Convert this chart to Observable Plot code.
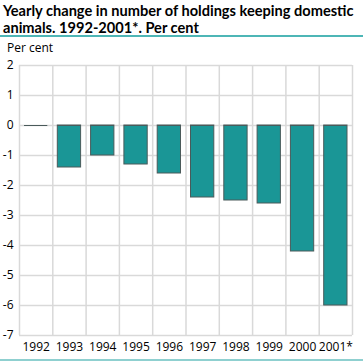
<!DOCTYPE html>
<html><head><meta charset="utf-8">
<script src="https://cdn.jsdelivr.net/npm/d3@7"></script>
<script src="https://cdn.jsdelivr.net/npm/@observablehq/plot@0.6"></script>
<style>
body{margin:0;background:#fff;font-family:"Open Sans",sans-serif;width:363px;}
#title{font-family:Lato,sans-serif;font-weight:bold;font-size:14.6px;line-height:17px;padding:2px 0 0 3px;color:#000;height:33px;white-space:nowrap;overflow:hidden}
#rule{height:2px;background:#4db6b6;margin-top:0px}
#unit{font-size:12px;line-height:14px;padding:4px 0 0 7px;height:14px;color:#000}
#bottom{height:2px;background:#8fd0d0}
svg{display:block}
</style></head><body>
<div id="title">Yearly change in number of holdings keeping domestic<br>animals. 1992-2001*. Per cent</div>
<div id="rule"></div>
<div id="unit">Per cent</div>
<div id="chart"></div>
<div id="bottom"></div>
<script>
const years = ["1992","1993","1994","1995","1996","1997","1998","1999","2000","2001*"];
const values = [0, -1.4, -1.0, -1.3, -1.6, -2.4, -2.5, -2.6, -4.2, -6.0];
const yTicks = [2,1,0,-1,-2,-3,-4,-5,-6,-7];

const data = years.map((y,i)=>({year:y, i, value:values[i]}));
const chart = Plot.plot({
  width: 363, height: 304,
  marginLeft: 19, marginRight: 11, marginTop: 10, marginBottom: 24,
  style: {fontFamily: "Open Sans, sans-serif", fontSize: "12px", color: "#000", background: "#fff"},
  x: {type: "linear", domain: [0, years.length], axis: null},
  y: {domain: [-7, 2], axis: null},
  marks: [
    Plot.gridY(yTicks, {stroke: "#d9d9d9", strokeOpacity: 1, strokeWidth: 1.5}),
    Plot.gridX(d3.range(years.length + 1), {stroke: "#d9d9d9", strokeOpacity: 1, strokeWidth: 1.5}),
    Plot.axisY(yTicks, {tickSize: 0, tickPadding: 6, fontSize: 12, label: null, tickFormat: d => d < 0 ? "-" + Math.abs(d) : String(d)}),
    Plot.axisX(data.map(d=>d.i+0.5), {tickSize: 0, tickPadding: 7, fontSize: 12, label: null, tickFormat: v => years[Math.floor(v)]}),
    Plot.rectY(data, {x1: d=>d.i, x2: d=>d.i+1, y: "value", insetLeft: 5, insetRight: 5, fill: "#1a9696", stroke: "#4a5a5a", strokeWidth: 1}),
    Plot.ruleY(data, {y: 0, x1: d=>d.i+0.15, x2: d=>d.i+0.85, stroke: "#4a5a5a", strokeWidth: 1})
  ]
});
document.getElementById("chart").appendChild(chart);
</script>
</body></html>
